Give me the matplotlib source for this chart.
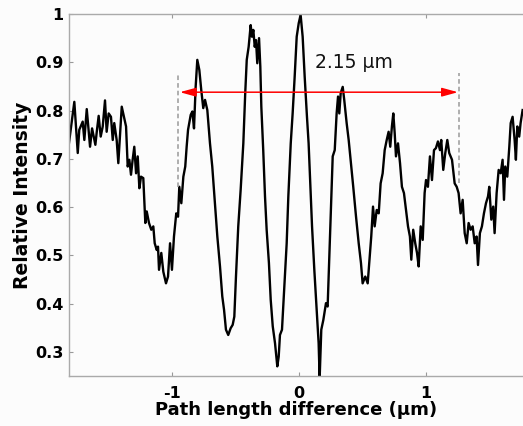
import matplotlib.pyplot as plt

# interferogram trace (path difference in um, relative intensity)
path_diff = [
    -1.814, -1.772, -1.745, -1.733, -1.706, -1.693, -1.674, -1.648, -1.632, -1.606,
    -1.595, -1.580, -1.564, -1.548, -1.530, -1.517, -1.501, -1.483, -1.469, -1.457,
    -1.438, -1.425, -1.398, -1.378, -1.364, -1.351, -1.338, -1.325, -1.312, -1.299,
    -1.285, -1.272, -1.259, -1.246, -1.228, -1.212, -1.201, -1.183, -1.165, -1.149,
    -1.138, -1.122, -1.112, -1.104, -1.086, -1.070, -1.049, -1.033, -1.017, -1.002,
    -0.986, -0.968, -0.954, -0.944, -0.928, -0.912, -0.897, -0.886, -0.875, -0.854,
    -0.841, -0.828, -0.815, -0.802, -0.786, -0.771, -0.755, -0.741, -0.723, -0.702,
    -0.684, -0.665, -0.644, -0.623, -0.605, -0.591, -0.576, -0.558, -0.539, -0.523,
    -0.510, -0.497, -0.479, -0.460, -0.439, -0.424, -0.412, -0.397, -0.381, -0.371,
    -0.360, -0.349, -0.339, -0.329, -0.315, -0.305, -0.297, -0.282, -0.268, -0.255,
    -0.237, -0.223, -0.207, -0.189, -0.171, -0.160, -0.150, -0.134, -0.118, -0.097,
    -0.084, -0.065, -0.050, -0.034, -0.018, -0.002, 0.013, 0.029, 0.045, 0.063,
    0.076, 0.087, 0.103, 0.121, 0.140, 0.155, 0.163, 0.176, 0.192, 0.213,
    0.226, 0.239, 0.252, 0.266, 0.282, 0.297, 0.308, 0.318, 0.329, 0.345,
    0.357, 0.376, 0.392, 0.410, 0.428, 0.450, 0.471, 0.489, 0.502, 0.523,
    0.542, 0.554, 0.570, 0.584, 0.597, 0.613, 0.629, 0.644, 0.660, 0.676,
    0.692, 0.707, 0.720, 0.733, 0.744, 0.755, 0.765, 0.781, 0.797, 0.812,
    0.828, 0.844, 0.860, 0.875, 0.886, 0.901, 0.917, 0.931, 0.944, 0.960,
    0.976, 0.991, 1.002, 1.017, 1.033, 1.049, 1.065, 1.080, 1.096, 1.112,
    1.122, 1.138, 1.154, 1.170, 1.185, 1.207, 1.228, 1.244, 1.259, 1.275,
    1.291, 1.307, 1.323, 1.338, 1.354, 1.370, 1.386, 1.401, 1.412, 1.427,
    1.443, 1.459, 1.475, 1.491, 1.501, 1.517, 1.532, 1.543, 1.559, 1.575,
    1.591, 1.606, 1.617, 1.627, 1.643, 1.659, 1.670, 1.685, 1.701, 1.711,
    1.722, 1.737, 1.748, 1.764,
]
intensity = [
    0.733, 0.818, 0.712, 0.760, 0.777, 0.739, 0.803, 0.725, 0.763, 0.729,
    0.756, 0.789, 0.746, 0.767, 0.821, 0.756, 0.794, 0.787, 0.739, 0.774,
    0.739, 0.691, 0.808, 0.784, 0.767, 0.684, 0.698, 0.667, 0.698, 0.725,
    0.670, 0.705, 0.639, 0.663, 0.660, 0.567, 0.591, 0.567, 0.553, 0.560,
    0.525, 0.511, 0.518, 0.470, 0.505, 0.466, 0.442, 0.456, 0.525, 0.470,
    0.539, 0.587, 0.580, 0.642, 0.608, 0.663, 0.684, 0.725, 0.760, 0.791,
    0.798, 0.763, 0.849, 0.905, 0.884, 0.843, 0.805, 0.822, 0.801, 0.732,
    0.684, 0.615, 0.539, 0.477, 0.415, 0.387, 0.346, 0.335, 0.349, 0.356,
    0.373, 0.456, 0.560, 0.636, 0.732, 0.836, 0.905, 0.932, 0.977, 0.953,
    0.967, 0.932, 0.946, 0.898, 0.950, 0.891, 0.808, 0.718, 0.622, 0.553,
    0.484, 0.408, 0.353, 0.318, 0.270, 0.290, 0.335, 0.346, 0.422, 0.525,
    0.622, 0.732, 0.794, 0.870, 0.953, 0.981, 0.998, 0.953, 0.870, 0.787,
    0.732, 0.663, 0.560, 0.470, 0.387, 0.318, 0.245, 0.346, 0.366, 0.401,
    0.394, 0.497, 0.594, 0.705, 0.718, 0.794, 0.829, 0.794, 0.836, 0.849,
    0.822, 0.774, 0.739, 0.691, 0.642, 0.580, 0.525, 0.484, 0.442, 0.456,
    0.442, 0.484, 0.539, 0.601, 0.560, 0.594, 0.587, 0.649, 0.670, 0.718,
    0.739, 0.756, 0.725, 0.767, 0.794, 0.753, 0.705, 0.732, 0.691, 0.642,
    0.629, 0.594, 0.560, 0.539, 0.491, 0.553, 0.525, 0.505, 0.477, 0.560,
    0.532, 0.629, 0.656, 0.642, 0.705, 0.656, 0.718, 0.722, 0.736, 0.718,
    0.739, 0.677, 0.712, 0.739, 0.712, 0.698, 0.649, 0.642, 0.629, 0.587,
    0.615, 0.546, 0.525, 0.567, 0.553, 0.560, 0.525, 0.539, 0.480, 0.546,
    0.560, 0.587, 0.608, 0.622, 0.642, 0.574, 0.601, 0.546, 0.629, 0.677,
    0.670, 0.698, 0.615, 0.684, 0.663, 0.725, 0.774, 0.787, 0.739, 0.698,
    0.767, 0.746, 0.774, 0.801,
]

# period markers and annotation
marker_x = [-0.952, 1.262]
marker_top = [0.876, 0.878]
marker_bottom = [0.642, 0.650]
arrow_y = 0.838
period_label = '2.15 \u03bcm'

x_ticks = [-1, 0, 1]
x_ticklabels = ['-1', '0', '1']
y_ticks = [0.3, 0.4, 0.5, 0.6, 0.7, 0.8, 0.9, 1.0]
y_ticklabels = ['0.3', '0.4', '0.5', '0.6', '0.7', '0.8', '0.9', '1']

bg = '#fcfcfc'
fig = plt.figure(figsize=(5.23, 4.26), dpi=100, facecolor=bg)
ax = fig.add_axes([69 / 523, 50 / 426, 1 - 69 / 523, 362 / 426])
ax.set_facecolor(bg)

ax.plot(path_diff, intensity, color='black', lw=1.7)

for xm, top, bot in zip(marker_x, marker_top, marker_bottom):
    ax.plot([xm, xm], [bot, top], color='#999999', lw=1.1, ls=(0, (3, 2)))

ax.annotate('', xy=(marker_x[0] + 0.012, arrow_y), xytext=(marker_x[1] - 0.008, arrow_y),
            arrowprops=dict(arrowstyle='<|-|>,head_length=0.8,head_width=0.22',
                            color='red', lw=1.1, mutation_scale=12,
                            shrinkA=0, shrinkB=0))
ax.text(0.126, 0.90, period_label, fontsize=13.5, ha='left', va='center', color='#111111')

ax.set_xlim(-1.814, 1.767)
ax.set_ylim(0.25, 1.0)
ax.set_xticks(x_ticks)
ax.set_xticklabels(x_ticklabels, fontsize=11.5, fontweight='bold')
ax.set_yticks(y_ticks)
ax.set_yticklabels(y_ticklabels, fontsize=11.5, fontweight='bold')
ax.tick_params(axis='x', direction='in', length=3, color='#999999', top=True, pad=7)
ax.tick_params(axis='y', direction='in', length=3, color='#999999', pad=4)

for side in ['left', 'bottom', 'top']:
    ax.spines[side].set_color('#aaaaaa')
    ax.spines[side].set_linewidth(1.0)
ax.spines['right'].set_visible(False)

ax.set_xlabel('Path length difference (\u03bcm)', fontsize=13, fontweight='bold', labelpad=0)
ax.set_ylabel('Relative Intensity', fontsize=13.5, fontweight='bold', labelpad=2)

fig.savefig('out.png', dpi=100, facecolor=bg)
